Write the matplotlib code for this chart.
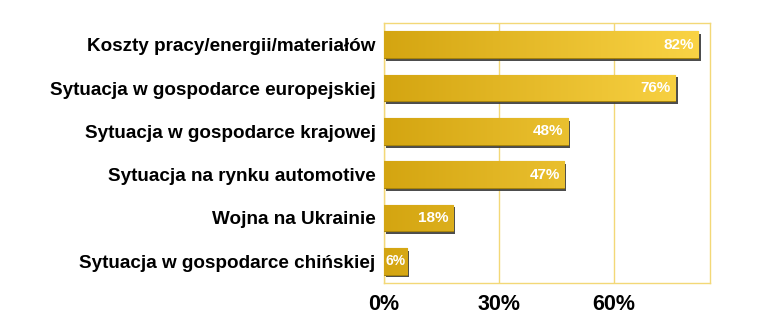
import numpy as np
import matplotlib.pyplot as plt
import matplotlib.patheffects as pe
from matplotlib.colors import LinearSegmentedColormap

categories = ["Koszty pracy/energii/materiałów",
              "Sytuacja w gospodarce europejskiej",
              "Sytuacja w gospodarce krajowej",
              "Sytuacja na rynku automotive",
              "Wojna na Ukrainie",
              "Sytuacja w gospodarce chińskiej"]
values = [82, 76, 48, 47, 18, 6]
xticks = [0, 30, 60]
xtick_labels = ["0%", "30%", "60%"]

plt.rcParams['font.family'] = ['Liberation Sans', 'DejaVu Sans']

fig = plt.figure(figsize=(7.64, 3.34), dpi=100)
ax = fig.add_axes([0.5026, 0.153, 0.4267, 0.778])

grid_col = "#F3D877"
cmap = LinearSegmentedColormap.from_list("gold", ["#D4A511", "#FBD547"])
grad = np.linspace(0, 1, 256).reshape(1, -1)
xmax = 85

y = np.arange(len(categories))
bars = ax.barh(y, values, height=0.62, color="#E8BC25", edgecolor="#A8840A",
               linewidth=0.8, zorder=3,
               path_effects=[pe.SimplePatchShadow(offset=(1.5, -2), shadow_rgbFace="#3a3a3a", alpha=0.9),
                             pe.Normal()])
for b, v in zip(bars, values):
    h = b.get_height()
    yc = b.get_y() + h / 2
    # gradient runs along the whole value axis, clipped to the bar
    im = ax.imshow(grad, cmap=cmap, aspect="auto", extent=[0, xmax, b.get_y() + h, b.get_y()],
                   zorder=4, interpolation="bilinear")
    im.set_clip_path(b)
    if v < 10:
        ax.text(v / 2, yc, f"{v}%", ha="center", va="center",
                color="white", fontsize=10, fontweight="bold", zorder=5)
    else:
        ax.text(v - 1.2, yc, f"{v}%", ha="right", va="center",
                color="white", fontsize=11, fontweight="bold", zorder=5)

ax.set_xlim(0, xmax)
ax.set_ylim(len(categories) - 0.5, -0.5)
ax.set_yticks(y)
ax.set_yticklabels(categories, fontsize=13.6, fontweight="bold")
ax.set_xticks(xticks)
ax.set_xticklabels(xtick_labels, fontsize=15.5, fontweight="bold")
ax.tick_params(length=0, pad=6)
ax.tick_params(axis="x", pad=8)
ax.grid(axis="x", color=grid_col, linewidth=1, zorder=0)
for s in ax.spines.values():
    s.set_color(grid_col)
    s.set_linewidth(1)

fig.savefig("out.png", dpi=100)
